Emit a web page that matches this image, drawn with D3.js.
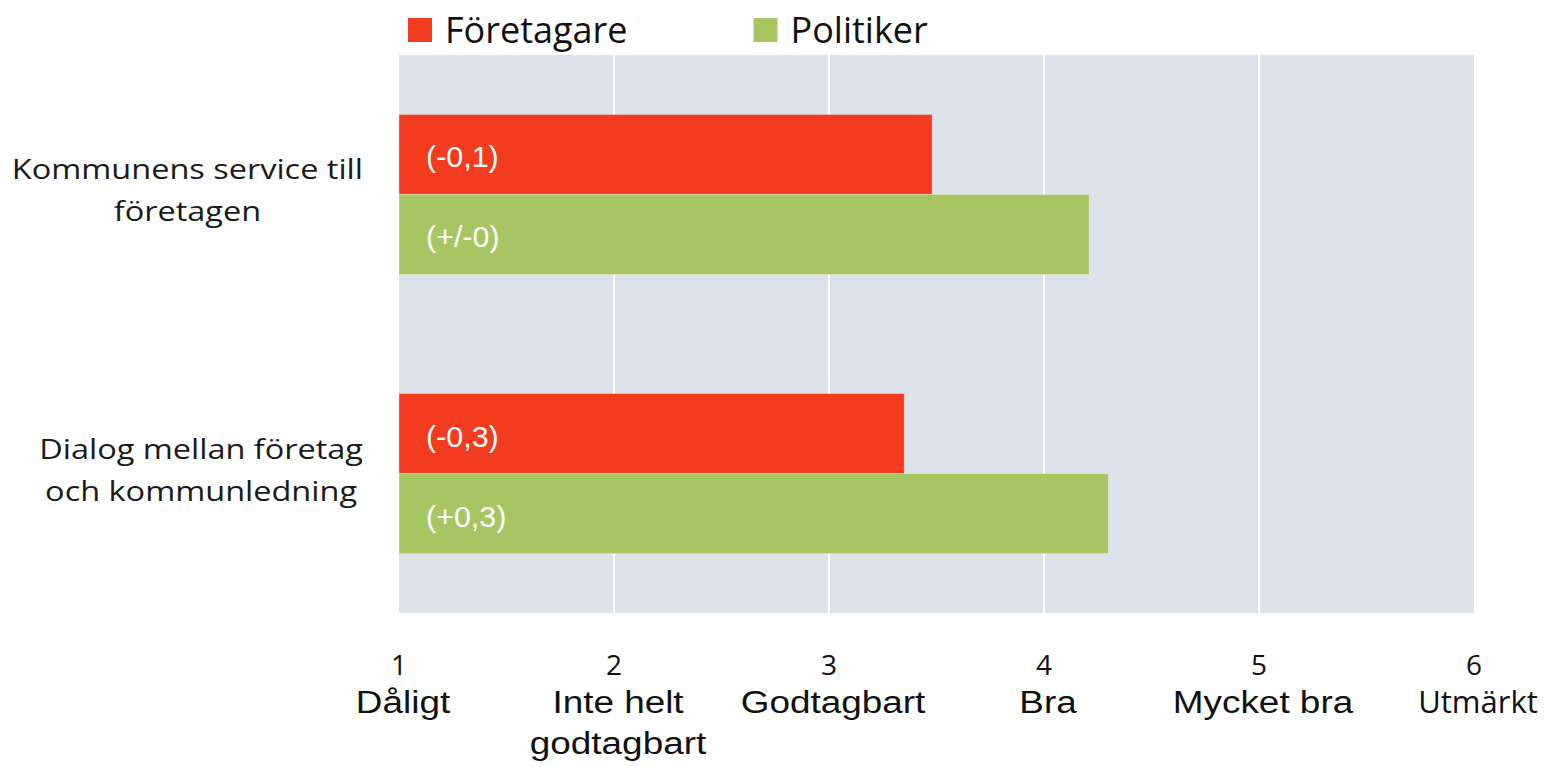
<!DOCTYPE html>
<html>
<head>
  <meta charset="utf-8">
  <title>Företagare och politiker</title>
  <script src="https://d3js.org/d3.v7.min.js"></script>
  <style>
    body { margin: 0; background: #fff; }
  </style>
</head>
<body>
<svg id="chart" width="1554" height="767"></svg>
<script>
// data
var categoryLines = [["Kommunens service till", "företagen"], ["Dialog mellan företag", "och kommunledning"]]
var seriesNames = ["Företagare", "Politiker"]
var foretagare = [3.48, 3.35]
var politiker = [4.21, 4.30]
var foretagareChange = ["(-0,1)", "(-0,3)"]
var politikerChange = ["(+/-0)", "(+0,3)"]
var tickValues = [1, 2, 3, 4, 5, 6]
var tickLabels = [["Dåligt"], ["Inte helt", "godtagbart"], ["Godtagbart"], ["Bra"], ["Mycket bra"], ["Utmärkt"]]

var colors = ["#f33b1f", "#a7c663"]
var calibriLike = "'Open Sans', 'Noto Sans', sans-serif"
var arialLike = "'Liberation Sans', Arial, sans-serif"

var svg = d3.select("#chart")
var plotLeft = 399, plotRight = 1474, plotTop = 55, plotBottom = 613

var x = d3.scaleLinear().domain([1, 6]).range([plotLeft, plotRight])
var y = d3.scaleBand().domain(d3.range(categoryLines.length)).range([plotTop, plotBottom])
  .paddingInner(0.4265).paddingOuter(0.213)
var ySub = d3.scaleBand().domain([0, 1]).range([0, y.bandwidth()])

// text with a horizontal stretch, the source fonts run wide
function stretched(g, px, py, str, sx) {
  return g.append("text")
    .attr("transform", "translate(" + px + "," + py + ") scale(" + sx + ",1)")
    .text(str)
}

// plot background and grid
svg.append("rect")
  .attr("x", plotLeft).attr("y", plotTop)
  .attr("width", plotRight - plotLeft).attr("height", plotBottom - plotTop)
  .attr("fill", "#dde3ea")

svg.append("g")
  .selectAll("line")
  .data(tickValues.slice(1, -1))
  .enter().append("line")
    .attr("x1", function (d) { return x(d) })
    .attr("x2", function (d) { return x(d) })
    .attr("y1", plotTop).attr("y2", plotBottom)
    .attr("stroke", "#ffffff")
    .attr("stroke-width", 2)

// bars
var rows = categoryLines.map(function (c, i) {
  return [
    { cat: i, s: 0, value: foretagare[i], label: foretagareChange[i] },
    { cat: i, s: 1, value: politiker[i], label: politikerChange[i] }
  ]
})
var flat = d3.merge(rows)

svg.append("g")
  .selectAll("rect")
  .data(flat)
  .enter().append("rect")
    .attr("x", x(1))
    .attr("y", function (d) { return y(d.cat) + ySub(d.s) })
    .attr("width", function (d) { return x(d.value) - x(1) })
    .attr("height", ySub.bandwidth())
    .attr("fill", function (d) { return colors[d.s] })
    .attr("stroke", "rgba(255,255,255,0.35)")
    .attr("stroke-width", 1)

var barText = svg.append("g")
  .attr("fill", "#ffffff")
  .attr("font-family", arialLike)
  .attr("font-size", 29)
flat.forEach(function (d) {
  stretched(barText, x(1) + 27, y(d.cat) + ySub(d.s) + ySub.bandwidth() / 2 + 13, d.label, 1.05)
})

// category labels, lines centred in a block that ends left of the plot
var catG = svg.append("g")
  .attr("fill", "#1a1a1a")
  .attr("font-family", calibriLike)
  .attr("font-size", 28)
  .attr("text-anchor", "middle")
var catOffsets = [-15, 27]
var catStretch = 1.16
categoryLines.forEach(function (lines, i) {
  var cy = y(i) + y.bandwidth() / 2
  var texts = lines.map(function (l, j) {
    return stretched(catG, 0, cy + catOffsets[j], l, catStretch)
  })
  var maxW = d3.max(texts, function (t) { return t.node().getComputedTextLength() * catStretch })
  var cx = plotLeft - 36 - maxW / 2
  texts.forEach(function (t, j) {
    t.attr("transform", "translate(" + cx + "," + (cy + catOffsets[j]) + ") scale(" + catStretch + ",1)")
  })
})

// x axis numbers and verbal labels
var axisG = svg.append("g").attr("text-anchor", "middle").attr("fill", "#111")
tickValues.forEach(function (v, i) {
  stretched(axisG, x(v), 675, String(v), 1.0)
    .attr("font-family", calibriLike).attr("font-size", 28)
  tickLabels[i].forEach(function (l, j) {
    var last = i === tickValues.length - 1
    stretched(axisG, x(v) + 4, 713 + j * 41, l, last ? 1.0 : 1.19)
      .attr("font-family", last ? calibriLike : arialLike)
      .attr("font-size", last ? 31 : 31)
  })
})

// legend
var legend = svg.append("g")
  .attr("font-family", calibriLike)
  .attr("font-size", 36)
  .attr("fill", "#111")
var lx = 408
seriesNames.forEach(function (name, i) {
  legend.append("rect")
    .attr("x", lx).attr("y", 18)
    .attr("width", 24).attr("height", 24)
    .attr("fill", colors[i])
  var t = legend.append("text")
    .attr("x", lx + 37).attr("y", 43)
    .text(name)
  lx = lx + 37 + t.node().getComputedTextLength() + 126
})
</script>
</body>
</html>
